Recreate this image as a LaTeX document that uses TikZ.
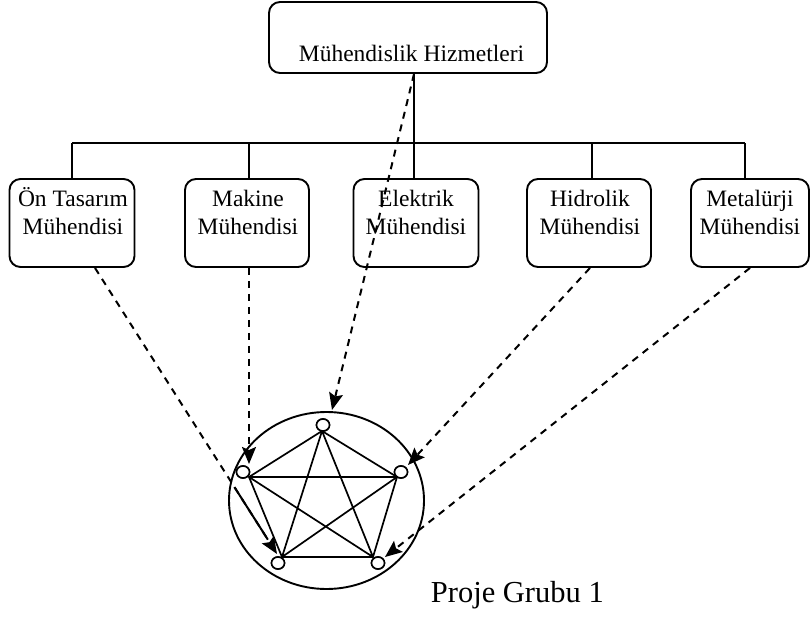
\documentclass[tikz,border=0pt]{standalone}
\usepackage{fontspec}
\setmainfont{Liberation Serif}
\usetikzlibrary{shapes.geometric,arrows.meta,calc}
\begin{document}
\begin{tikzpicture}[x=1pt,y=-1pt,
  line width=1.9pt,
  box/.style={draw, rounded corners=11pt, minimum width=125pt, minimum height=88pt, inner sep=0pt},
  btext/.style={anchor=base, inner sep=0pt, font=\fontsize{23.5}{28}\selectfont},
  vtx/.style={ellipse, draw, fill=white, minimum width=13pt, minimum height=12pt, inner sep=0pt, line width=1.6pt},
  darrow/.style={line width=2pt, dash pattern=on 7pt off 6pt, -{Stealth[length=17pt,width=14pt,inset=3pt]}},
  edge/.style={line width=1.7pt}
]
\useasboundingbox (0,0) rectangle (810,617);

% top box
\node[box, minimum width=278pt, minimum height=71pt] (top) at (408,37.5) {};
\node[btext] (toptext) at (411.5,62) {Mühendislik Hizmetleri};

% engineer boxes
\node[box] (b1) at (72,223) {};
\node[box, minimum width=124pt] (b2) at (247,223) {};
\node[box] (b3) at (416,223) {};
\node[box, minimum width=124pt] (b4) at (589,223) {};
\node[box, minimum width=118pt] (b5) at (750,223) {};

\node[btext] (t1) at (73,207) {\begin{tabular}[t]{@{}c@{}}Ön Tasarım\\Mühendisi\end{tabular}};
\node[btext] (t2) at (248,207) {\begin{tabular}[t]{@{}c@{}}Makine\\Mühendisi\end{tabular}};
\node[btext] (t3) at (416,207) {\begin{tabular}[t]{@{}c@{}}Elektrik\\Mühendisi\end{tabular}};
\node[btext] (t4) at (590,207) {\begin{tabular}[t]{@{}c@{}}Hidrolik\\Mühendisi\end{tabular}};
\node[btext] (t5) at (750,207) {\begin{tabular}[t]{@{}c@{}}Metalürji\\Mühendisi\end{tabular}};

% tree connectors
\coordinate (busy) at (0,143);
\draw ([xshift=-2pt]b3.north |- top.south) -- ([xshift=-2pt]b3.north);
\draw (b1.north |- busy) -- ([xshift=-5pt]b5.north |- busy);
\draw (b1.north) -- (b1.north |- busy);
\draw ([xshift=2pt]b2.north) -- ([xshift=2pt]b2.north |- busy);
\draw ([xshift=3pt]b4.north) -- ([xshift=3pt]b4.north |- busy);
\draw ([xshift=-5pt]b5.north) -- ([xshift=-5pt]b5.north |- busy);

% project group
\node[ellipse, draw, minimum width=195pt, minimum height=177pt, inner sep=0pt] (grp) at (326.5,500.5) {};
\node[vtx] (vT) at (323,425) {};
\node[vtx] (vL) at (243,472) {};
\node[vtx] (vR) at (401,472) {};
\node[vtx] (vBL) at (278,563) {};
\node[vtx] (vBR) at (378,563) {};
\coordinate (pT) at (322,431);
\coordinate (pL) at (249,477);
\coordinate (pR) at (397,477);
\coordinate (pBL) at (282,557);
\coordinate (pBR) at (373,557);
\draw[edge] (pT) -- (pL) -- (pBL) -- (pBR) -- (pR) -- cycle;
\draw[edge] (pT) -- (pBL) (pT) -- (pBR) (pL) -- (pR) (pL) -- (pBR) (pR) -- (pBL);
\node[vtx] at (vT) {};
\node[vtx] at (vL) {};
\node[vtx] at (vR) {};
\node[vtx] at (vBL) {};
\node[vtx] at (vBR) {};

\node[anchor=base west, inner sep=0pt, font=\fontsize{30.5}{36}\selectfont] (lbl) at (430,602) {Proje Grubu 1};

% dashed arrows
\coordinate (tT) at (332,410);
\coordinate (tL) at (249,464);
\coordinate (tBL) at (277,554);
\coordinate (tR) at (408,465);
\coordinate (tBR) at (385,557);
\coordinate (o1) at ([xshift=23pt]b1.south);
\draw[darrow] ([xshift=-2pt]b3.north |- top.south) -- (tT);
\draw[darrow] (o1) -- (tBL);
\draw[line width=2pt] ($(o1)!0.766!(tBL)$) -- ($(o1)!0.95!(tBL)$);
\draw[darrow] ([xshift=2pt]b2.south) -- (tL);
\draw[darrow] ([xshift=1pt]b4.south) -- (tR);
\draw[darrow] (b5.south) -- (tBR);
\end{tikzpicture}
\end{document}
